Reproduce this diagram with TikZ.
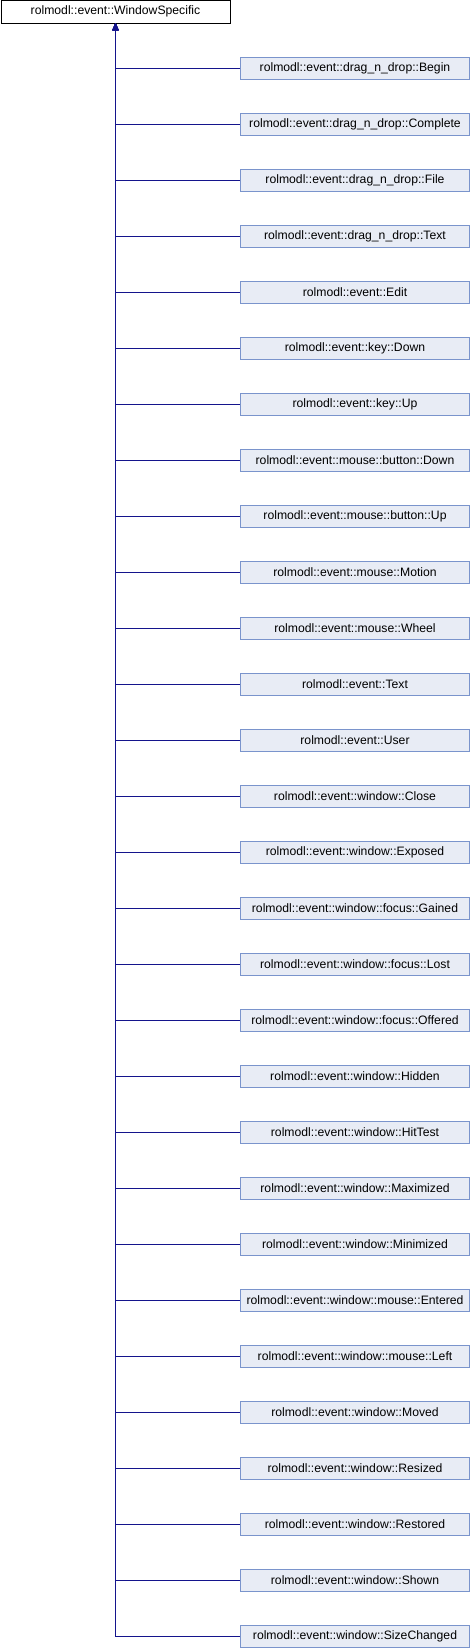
\documentclass[tikz,border=0pt]{standalone}
\usepackage{fontspec}
\setmainfont{Liberation Sans}
\usepackage{tikz}
\usetikzlibrary{arrows.meta,shapes}
\definecolor{boxfill}{RGB}{232,236,245}
\definecolor{boxline}{RGB}{122,148,204}
\definecolor{linkblue}{RGB}{20,20,140}
\tikzstyle{base class}=[rectangle,draw=black,fill=white,minimum width=229pt,minimum height=22.5pt,inner sep=0pt,font=\fontsize{12.2}{14}\selectfont]
\tikzstyle{sub class}=[rectangle,draw=boxline,fill=boxfill,minimum width=229pt,minimum height=22pt,inner sep=0pt,font=\fontsize{12.2}{14}\selectfont]
\tikzstyle{inherit} = [draw,thick,linkblue,{Triangle[width=6pt,length=7pt]}-]
\begin{document}
\begin{tikzpicture}[x=1pt,y=-1pt]
        \useasboundingbox (0,0) rectangle (470,1648);
        \node[base class] (ws) at (115.5,11.75) {rolmodl::event::WindowSpecific};
        \node[sub class] (dndBegin) at (355,68) {rolmodl::event::drag\_n\_drop::Begin};
        \node[sub class] (dndComplete) at (355,124) {rolmodl::event::drag\_n\_drop::Complete};
        \node[sub class] (dndFile) at (355,180) {rolmodl::event::drag\_n\_drop::File};
        \node[sub class] (dndText) at (355,236) {rolmodl::event::drag\_n\_drop::Text};
        \node[sub class] (edit) at (355,292) {rolmodl::event::Edit};
        \node[sub class] (keyDown) at (355,348) {rolmodl::event::key::Down};
        \node[sub class] (keyUp) at (355,404) {rolmodl::event::key::Up};
        \node[sub class] (btnDown) at (355,460) {rolmodl::event::mouse::button::Down};
        \node[sub class] (btnUp) at (355,516) {rolmodl::event::mouse::button::Up};
        \node[sub class] (motion) at (355,572) {rolmodl::event::mouse::Motion};
        \node[sub class] (wheel) at (355,628) {rolmodl::event::mouse::Wheel};
        \node[sub class] (text) at (355,684) {rolmodl::event::Text};
        \node[sub class] (user) at (355,740) {rolmodl::event::User};
        \node[sub class] (close) at (355,796) {rolmodl::event::window::Close};
        \node[sub class] (exposed) at (355,852) {rolmodl::event::window::Exposed};
        \node[sub class] (gained) at (355,908) {rolmodl::event::window::focus::Gained};
        \node[sub class] (lost) at (355,964) {rolmodl::event::window::focus::Lost};
        \node[sub class] (offered) at (355,1020) {rolmodl::event::window::focus::Offered};
        \node[sub class] (hidden) at (355,1076) {rolmodl::event::window::Hidden};
        \node[sub class] (hittest) at (355,1132) {rolmodl::event::window::HitTest};
        \node[sub class] (maximized) at (355,1188) {rolmodl::event::window::Maximized};
        \node[sub class] (minimized) at (355,1244) {rolmodl::event::window::Minimized};
        \node[sub class] (entered) at (355,1300) {rolmodl::event::window::mouse::Entered};
        \node[sub class] (left) at (355,1356) {rolmodl::event::window::mouse::Left};
        \node[sub class] (moved) at (355,1412) {rolmodl::event::window::Moved};
        \node[sub class] (resized) at (355,1468) {rolmodl::event::window::Resized};
        \node[sub class] (restored) at (355,1524) {rolmodl::event::window::Restored};
        \node[sub class] (shown) at (355,1580) {rolmodl::event::window::Shown};
        \node[sub class] (sizechanged) at (355,1636) {rolmodl::event::window::SizeChanged};
        \draw[inherit] (ws) |- (dndBegin);
        \draw[inherit] (ws) |- (dndComplete);
        \draw[inherit] (ws) |- (dndFile);
        \draw[inherit] (ws) |- (dndText);
        \draw[inherit] (ws) |- (edit);
        \draw[inherit] (ws) |- (keyDown);
        \draw[inherit] (ws) |- (keyUp);
        \draw[inherit] (ws) |- (btnDown);
        \draw[inherit] (ws) |- (btnUp);
        \draw[inherit] (ws) |- (motion);
        \draw[inherit] (ws) |- (wheel);
        \draw[inherit] (ws) |- (text);
        \draw[inherit] (ws) |- (user);
        \draw[inherit] (ws) |- (close);
        \draw[inherit] (ws) |- (exposed);
        \draw[inherit] (ws) |- (gained);
        \draw[inherit] (ws) |- (lost);
        \draw[inherit] (ws) |- (offered);
        \draw[inherit] (ws) |- (hidden);
        \draw[inherit] (ws) |- (hittest);
        \draw[inherit] (ws) |- (maximized);
        \draw[inherit] (ws) |- (minimized);
        \draw[inherit] (ws) |- (entered);
        \draw[inherit] (ws) |- (left);
        \draw[inherit] (ws) |- (moved);
        \draw[inherit] (ws) |- (resized);
        \draw[inherit] (ws) |- (restored);
        \draw[inherit] (ws) |- (shown);
        \draw[inherit] (ws) |- (sizechanged);
      \end{tikzpicture}
\end{document}
